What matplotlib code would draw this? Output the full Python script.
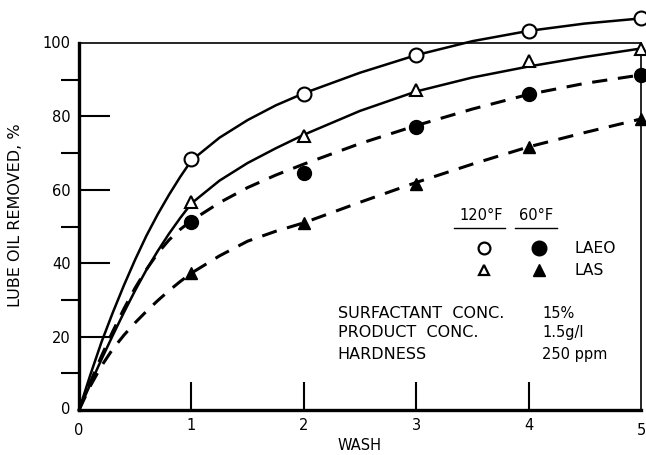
import numpy as np
import matplotlib
matplotlib.use("Agg")
import matplotlib.pyplot as plt

# measured points
wash = [1, 2, 3, 4, 5]
laeo_120 = [68.3, 86.0, 96.7, 103.3, 106.7]
las_120 = [56.7, 74.7, 87.2, 95.0, 98.5]
laeo_60 = [51.3, 64.7, 77.2, 86.1, 91.3]
las_60 = [37.2, 50.9, 61.6, 71.7, 79.3]

# hand-drawn fitted curves
curve_x = [0, 0.1, 0.2, 0.3, 0.4, 0.5, 0.6, 0.7, 0.8, 0.9, 1.0,
           1.25, 1.5, 1.75, 2, 2.5, 3, 3.5, 4, 4.5, 5]
curve_laeo_120 = [0, 9.5, 18.5, 26.5, 34, 41, 47.5, 53.3, 58.6, 63.5, 68,
                  74.2, 79, 83, 86.3, 91.9, 96.7, 100.5, 103.3, 105.3, 106.7]
curve_las_120 = [0, 7, 13.8, 20.3, 26.6, 32.6, 38.2, 43.3, 48, 52.3, 56.3,
                 62.5, 67.3, 71.3, 75, 81.5, 86.8, 90.6, 93.6, 96.2, 98.5]
curve_laeo_60 = [0, 7.5, 14.7, 21.4, 27.6, 33.3, 38.3, 42.7, 46.3, 49.2, 51.6,
                 56.5, 60.6, 64, 67, 72.6, 77.5, 82, 86, 89, 91.3]
curve_las_60 = [0, 6.5, 12, 16.6, 20.4, 23.8, 26.9, 29.8, 32.5, 35, 37.3,
                42, 46, 48.7, 51, 56.6, 62, 67, 71.7, 75.6, 79.3]

fig = plt.figure(figsize=(6.46, 4.55), dpi=100)
ax = fig.add_axes([79 / 646, 1 - 410 / 455, (641 - 79) / 646, (410 - 43) / 455])

dash = (0, (5, 3.5))
ax.plot(curve_x, curve_laeo_120, color="black", lw=1.8, clip_on=False)
ax.plot(curve_x, curve_las_120, color="black", lw=1.8, clip_on=False)
ax.plot(curve_x, curve_laeo_60, color="black", lw=2.2, ls=dash, clip_on=False)
ax.plot(curve_x, curve_las_60, color="black", lw=2.2, ls=dash, clip_on=False)

ax.plot(wash, laeo_120, "o", ms=10, mfc="white", mec="black", mew=1.5, clip_on=False, zorder=5)
ax.plot(wash, las_120, "^", ms=8.5, mfc="white", mec="black", mew=1.5, clip_on=False, zorder=5)
ax.plot(wash, laeo_60, "o", ms=10, mfc="black", mec="black", clip_on=False, zorder=5)
ax.plot(wash, las_60, "^", ms=8.5, mfc="black", mec="black", clip_on=False, zorder=5)

ax.set_xlim(0, 5)
ax.set_ylim(0, 100)
ax.set_xticks([1, 2, 3, 4])
ax.set_yticks([20, 40, 60, 80])
ax.set_yticks([10, 30, 50, 70, 90], minor=True)
ax.tick_params(axis="both", direction="in", colors="black", labelsize=10.5)
ax.tick_params(axis="y", which="major", length=22, width=1.5, pad=6)
ax.tick_params(axis="y", which="minor", length=13, width=1.5)
ax.tick_params(axis="x", which="major", length=20, width=1.5, pad=6)

# labels at the corners
ax.text(-0.08, 0, "0", ha="right", va="center", fontsize=10.5)
ax.text(-0.08, 100, "100", ha="right", va="center", fontsize=10.5)
ax.text(0, -3.5, "0", ha="center", va="top", fontsize=10.5)
ax.text(5, -3.5, "5", ha="center", va="top", fontsize=10.5)

ax.spines["left"].set_linewidth(2.4)
ax.spines["bottom"].set_linewidth(2.4)
ax.spines["top"].set_linewidth(1.2)
ax.spines["right"].set_linewidth(1.2)

ax.set_xlabel("WASH", fontsize=10.5, labelpad=3)
ax.set_ylabel("LUBE OIL REMOVED, %", fontsize=11.5)
ax.yaxis.set_label_coords(-0.10, 0.53)

# legend block
ax.text(3.58, 53.1, "120°F", ha="center", va="center", fontsize=10.5)
ax.text(4.07, 53.1, "60°F", ha="center", va="center", fontsize=10.5)
ax.plot([3.34, 3.79], [49.6, 49.6], color="black", lw=1)
ax.plot([3.88, 4.25], [49.6, 49.6], color="black", lw=1)
ax.plot([3.6], [44.1], "o", ms=8.5, mfc="white", mec="black", mew=1.6)
ax.plot([4.09], [44.1], "o", ms=10.5, mfc="black", mec="black")
ax.plot([3.6], [38.1], "^", ms=7.5, mfc="white", mec="black", mew=1.6)
ax.plot([4.09], [38.1], "^", ms=8.5, mfc="black", mec="black")
ax.text(4.41, 44.1, "LAEO", ha="left", va="center", fontsize=11.2)
ax.text(4.41, 38.1, "LAS", ha="left", va="center", fontsize=11.2)

ax.text(2.3, 26.2, "SURFACTANT  CONC.", ha="left", va="center", fontsize=11.5)
ax.text(2.3, 21.0, "PRODUCT  CONC.", ha="left", va="center", fontsize=11.5)
ax.text(2.3, 15.0, "HARDNESS", ha="left", va="center", fontsize=11.5)
ax.text(4.12, 26.2, "15%", ha="left", va="center", fontsize=10.5)
ax.text(4.12, 21.0, "1.5g/l", ha="left", va="center", fontsize=10.5)
ax.text(4.12, 15.0, "250 ppm", ha="left", va="center", fontsize=10.5)

fig.savefig("out.png", dpi=100)
